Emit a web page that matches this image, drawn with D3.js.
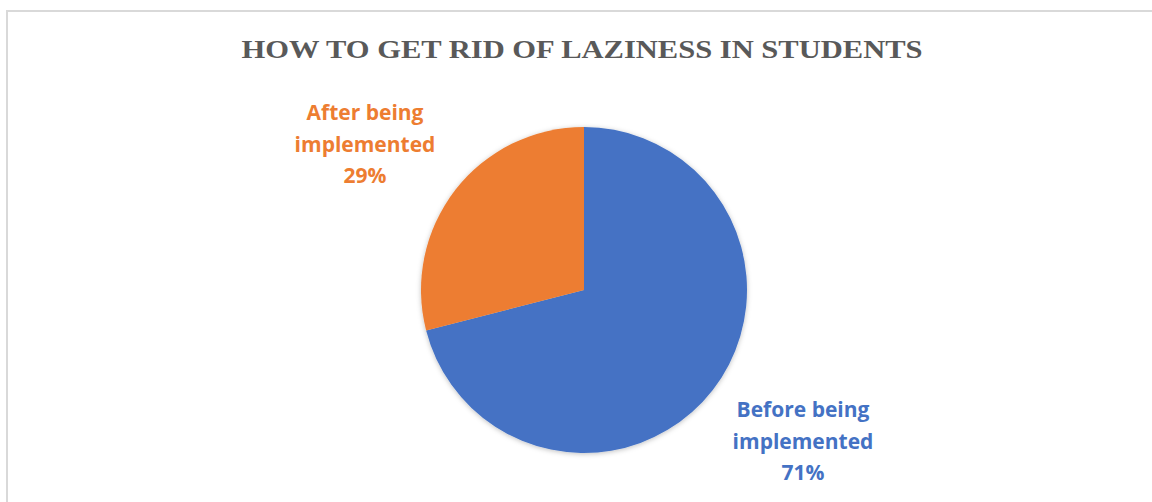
<!DOCTYPE html>
<html>
<head>
<meta charset="utf-8">
<script src="https://cdn.jsdelivr.net/npm/d3@7"></script>
<style>
  body { margin: 0; padding: 0; overflow: hidden; background: #fff; }
</style>
</head>
<body>
<script>
// chart data
const categories = ["Before being implemented", "After being implemented"];
const values = [71, 29];
const colors = ["#4472c4", "#ed7d31"];
const labelLines = [["Before being", "implemented", "71%"], ["After being", "implemented", "29%"]];
const title = "HOW TO GET RID OF LAZINESS IN STUDENTS";

const width = 1152, height = 502;

const svg = d3.select("body").append("svg")
  .attr("width", width).attr("height", height);

// soft shadow like the office chart
const defs = svg.append("defs");
const f = defs.append("filter").attr("id", "shadow")
  .attr("x", "-10%").attr("y", "-10%").attr("width", "120%").attr("height", "120%");
f.append("feDropShadow").attr("dx", 0).attr("dy", 1).attr("stdDeviation", 2.5)
  .attr("flood-color", "#000").attr("flood-opacity", 0.25);

// chart frame
svg.append("rect")
  .attr("x", 7).attr("y", 11)
  .attr("width", width + 20).attr("height", height + 20)
  .attr("fill", "none").attr("stroke", "#d9d9d9").attr("stroke-width", 2);

svg.append("text")
  .attr("x", 582).attr("y", 58)
  .attr("text-anchor", "middle")
  .attr("font-family", "'Liberation Serif', 'DejaVu Serif', serif")
  .attr("font-weight", "bold")
  .attr("font-size", 26)
  .attr("fill", "#595959")
  .attr("textLength", 681).attr("lengthAdjust", "spacingAndGlyphs")
  .text(title);

const cx = 584, cy = 290, r = 163;

const pie = d3.pie().sort(null).value(d => d);
const arc = d3.arc().innerRadius(0).outerRadius(r);
const arcs = pie(values);

const g = svg.append("g").attr("transform", `translate(${cx},${cy})`);

g.append("g").attr("filter", "url(#shadow)")
  .selectAll("path").data(arcs).enter()
  .append("path")
  .attr("d", arc)
  .attr("fill", (d, i) => colors[i]);

// label positions (outside the pie, relative to centre)
const labelPos = [[219, 127], [-219, -170]];

arcs.forEach((d, i) => {
  const t = g.append("text")
    .attr("text-anchor", "middle")
    .attr("font-family", "'Open Sans', 'Noto Sans', sans-serif")
    .attr("font-weight", "bold")
    .attr("font-size", 21)
    .attr("fill", colors[i]);
  labelLines[i].forEach((line, j) => {
    t.append("tspan")
      .attr("x", labelPos[i][0])
      .attr("y", labelPos[i][1] + j * 31.5)
      .text(line);
  });
});
</script>
</body>
</html>
